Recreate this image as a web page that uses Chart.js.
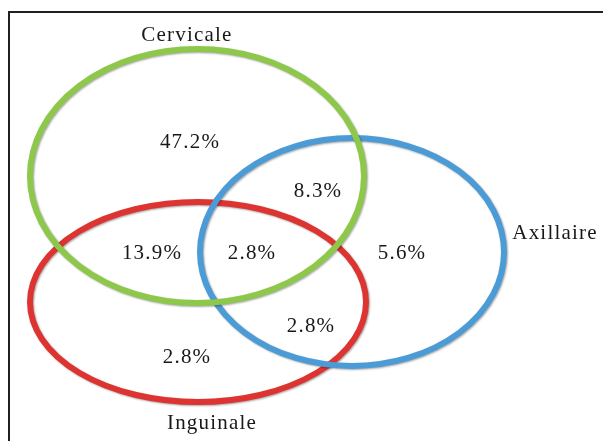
<!DOCTYPE html>
<html lang="fr">
<head>
  <meta charset="UTF-8">
  <title>Venn – localisation des adénopathies</title>
  <style>
    html, body { margin: 0; padding: 0; background: #fff; overflow: hidden; }
    #wrap { position: relative; width: 603px; height: 441px; }
    #frame { position: absolute; left: 8px; top: 11px; width: 700px; height: 500px;
             border-top: 2px solid #231f20; border-left: 2px solid #231f20; }
    canvas { position: absolute; left: 0; top: 0; }
  </style>
</head>
<body>
  <div id="wrap">
    <div id="frame"></div>
    <canvas id="venn" width="603" height="441"></canvas>
  </div>

  <script src="https://cdn.jsdelivr.net/npm/chart.js"></script>
  <script>
    // ensembles (ellipses), en unités du repère
    const setNames  = ['Inguinale', 'Axillaire', 'Cervicale'];
    const setCx     = [198, 352, 197];
    const setCy     = [302, 252, 176];
    const setRx     = [168, 152, 167];
    const setRy     = [100, 114, 127];
    const setColors = ['#dd3431', '#4b9bd6', '#8dc84a'];

    // noms des ensembles
    const nameX = [212, 555, 187];
    const nameY = [423, 233, 35];

    // pourcentages par zone
    const zoneValues = [47.2, 8.3, 13.9, 2.8, 5.6, 2.8, 2.8];
    const zoneX      = [190, 318, 152, 252, 402, 311, 187];
    const zoneY      = [142, 191, 253, 253, 253, 326, 357];

    const textFont = '21px "Liberation Serif", "Times New Roman", serif';

    const vennPlugin = {
      id: 'venn',
      afterDatasetsDraw(chart) {
        const ctx = chart.ctx;
        const xs = chart.scales.x, ys = chart.scales.y;
        ctx.save();
        for (let i = 0; i < setNames.length; i++) {
          const cx = xs.getPixelForValue(setCx[i]);
          const cy = ys.getPixelForValue(setCy[i]);
          const rx = Math.abs(xs.getPixelForValue(setCx[i] + setRx[i]) - cx);
          const ry = Math.abs(ys.getPixelForValue(setCy[i] + setRy[i]) - cy);
          ctx.beginPath();
          ctx.ellipse(cx, cy, rx, ry, 0, 0, Math.PI * 2);
          ctx.lineWidth = 6;
          ctx.strokeStyle = setColors[i];
          ctx.shadowColor = 'rgba(0,0,0,0.35)';
          ctx.shadowBlur = 2;
          ctx.shadowOffsetX = 1;
          ctx.shadowOffsetY = 1;
          ctx.stroke();
        }
        ctx.shadowColor = 'transparent';
        ctx.fillStyle = '#1a1718';
        ctx.font = textFont;
        ctx.letterSpacing = '1.2px';
        ctx.textAlign = 'center';
        ctx.textBaseline = 'middle';
        chart.getDatasetMeta(0).data.forEach((pt, i) => {
          ctx.fillText(setNames[i], pt.x, pt.y);
        });
        chart.getDatasetMeta(1).data.forEach((pt, i) => {
          ctx.fillText(zoneValues[i].toFixed(1) + '%', pt.x, pt.y);
        });
        ctx.restore();
      }
    };

    new Chart(document.getElementById('venn'), {
      type: 'scatter',
      data: {
        datasets: [
          { label: 'Ensembles', data: nameX.map((x, i) => ({ x, y: nameY[i] })), pointRadius: 0 },
          { label: 'Zones', data: zoneX.map((x, i) => ({ x, y: zoneY[i] })), pointRadius: 0 }
        ]
      },
      options: {
        responsive: false,
        animation: false,
        layout: { padding: 0 },
        plugins: { legend: { display: false }, tooltip: { enabled: false } },
        scales: {
          x: { type: 'linear', min: 0, max: 603, display: false },
          y: { type: 'linear', min: 0, max: 441, reverse: true, display: false }
        }
      },
      plugins: [vennPlugin]
    });
  </script>
</body>
</html>
